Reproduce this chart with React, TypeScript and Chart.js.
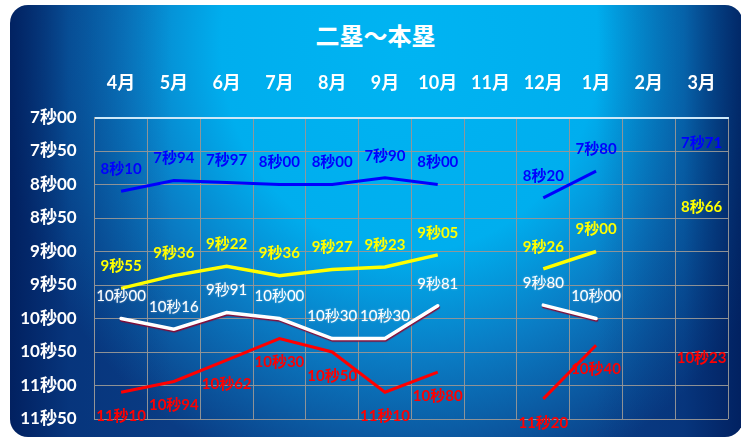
import React, { useEffect, useRef } from 'react';
import { Chart, registerables } from 'chart.js';

Chart.register(...registerables);

const titleText = '二塁～本塁';
const months = ['4月', '5月', '6月', '7月', '8月', '9月', '10月', '11月', '12月', '1月', '2月', '3月'];
const yTickLabels = ['7秒00', '7秒50', '8秒00', '8秒50', '9秒00', '9秒50', '10秒00', '10秒50', '11秒00', '11秒50'];
const blueSeries = [8.10, 7.94, 7.97, 8.00, 8.00, 7.90, 8.00, null, 8.20, 7.80, null, 7.71];
const yellowSeries = [9.55, 9.36, 9.22, 9.36, 9.27, 9.23, 9.05, null, 9.26, 9.00, null, 8.66];
const whiteSeries = [10.00, 10.16, 9.91, 10.00, 10.30, 10.30, 9.81, null, 9.80, 10.00, null, null];
const redSeries = [11.10, 10.94, 10.62, 10.30, 10.50, 11.10, 10.80, null, 11.20, 10.40, null, 10.23];

const Y_MIN = 7;
const Y_STEP = 0.5;
const FONT = "Lato, 'Noto Sans CJK JP', sans-serif";

function fmtTime(v: number): string {
  const h = Math.round(v * 100);
  const s = Math.floor(h / 100);
  const c = h % 100;
  return `${s}秒${String(c).padStart(2, '0')}`;
}

const shadowPlugin = {
  id: 'lineShadow',
  beforeDatasetDraw(chart: any, args: any) {
    const ds = chart.data.datasets[args.index];
    if (ds.lineShadow) {
      const ctx = chart.ctx;
      ctx.save();
      ctx.shadowColor = ds.lineShadow;
      ctx.shadowOffsetX = 0.5;
      ctx.shadowOffsetY = 1.5;
      ctx.shadowBlur = 1;
    }
  },
  afterDatasetDraw(chart: any, args: any) {
    const ds = chart.data.datasets[args.index];
    if (ds.lineShadow) chart.ctx.restore();
  },
};

const valueLabelPlugin = {
  id: 'valueLabels',
  afterDatasetsDraw(chart: any) {
    const ctx = chart.ctx;
    chart.data.datasets.forEach((ds: any, i: number) => {
      const meta = chart.getDatasetMeta(i);
      const cfg = ds.labelCfg;
      if (!cfg) return;
      meta.data.forEach((pt: any, j: number) => {
        const v = ds.data[j];
        if (v == null) return;
        const dy = cfg.position === 'above' ? -cfg.offset : cfg.offset;
        ctx.save();
        ctx.font = cfg.font;
        ctx.fillStyle = cfg.color;
        ctx.textAlign = 'center';
        ctx.textBaseline = 'middle';
        if (cfg.glow) {
          ctx.shadowColor = cfg.glow;
          ctx.shadowBlur = 2;
        }
        ctx.fillText(fmtTime(v), pt.x, pt.y + dy);
        ctx.restore();
      });
    });
  },
};

export default function App() {
  const ref = useRef<HTMLCanvasElement | null>(null);

  useEffect(() => {
    if (!ref.current) return;
    const gridGray = 'rgba(150,150,150,0.95)';
    const topLine = 'rgba(205,232,250,0.95)';
    const chart = new Chart(ref.current, {
      type: 'line',
      data: {
        labels: months,
        datasets: [
          {
            label: 'blue',
            data: blueSeries,
            borderColor: '#0000ff',
            borderWidth: 3,
            pointRadius: 0,
            spanGaps: false,
            labelCfg: { position: 'above', offset: 22, color: '#0000ff', font: `bold 15px ${FONT}` },
          } as any,
          {
            label: 'yellow',
            data: yellowSeries,
            borderColor: '#ffff00',
            borderWidth: 3.5,
            pointRadius: 0,
            spanGaps: false,
            labelCfg: { position: 'above', offset: 22, color: '#ffff00', font: `bold 15px ${FONT}` },
          } as any,
          {
            label: 'white',
            data: whiteSeries,
            borderColor: '#ffffff',
            borderWidth: 3.5,
            borderCapStyle: 'round',
            pointRadius: 0,
            spanGaps: false,
            lineShadow: 'rgba(150,0,40,0.9)',
            labelCfg: { position: 'above', offset: 22, color: '#ffffff', font: `15px ${FONT}`, glow: 'rgba(255,255,255,0.5)' },
          } as any,
          {
            label: 'red',
            data: redSeries,
            borderColor: '#ff0000',
            borderWidth: 3,
            pointRadius: 0,
            spanGaps: false,
            labelCfg: { position: 'below', offset: 24, color: '#ff0000', font: `bold 15px ${FONT}` },
          } as any,
        ],
      },
      options: {
        animation: false,
        responsive: false,
        devicePixelRatio: 1,
        layout: { padding: { left: 0, right: 13, top: 0, bottom: 22 } },
        plugins: {
          legend: { display: false },
          tooltip: { enabled: false },
          title: { display: false },
        },
        scales: {
          x: {
            type: 'category',
            position: 'top',
            offset: true,
            grid: { offset: true, color: gridGray, lineWidth: 1, drawTicks: false },
            border: { color: topLine, width: 2 },
            ticks: {
              color: '#ffffff',
              font: { family: FONT, size: 18, weight: 'bold' },
              padding: 24,
              maxRotation: 0,
              autoSkip: false,
            },
            afterFit: (axis: any) => {
              axis.height = 117.5;
              axis.paddingLeft = 0;
              axis.paddingRight = 0;
            },
          },
          y: {
            reverse: true,
            min: 7,
            max: 11.5,
            grid: {
              color: (c: any) => (c.tick && c.tick.value === Y_MIN ? topLine : gridGray),
              lineWidth: (c: any) => (c.tick && c.tick.value === Y_MIN ? 2 : 1),
              drawTicks: false,
            },
            border: { color: gridGray, width: 1 },
            ticks: {
              stepSize: Y_STEP,
              color: '#ffffff',
              font: { family: FONT, size: 17, weight: 'bold' },
              padding: 18,
              callback: (v: any) => yTickLabels[Math.round((Number(v) - Y_MIN) / Y_STEP)],
            },
            afterFit: (axis: any) => {
              axis.width = 94.7;
              axis.paddingTop = 0;
              axis.paddingBottom = 0;
            },
          },
        },
      } as any,
      plugins: [shadowPlugin, valueLabelPlugin],
    });
    return () => chart.destroy();
  }, []);

  return (
    <div style={{ position: 'fixed', left: 0, top: 0, width: 741, height: 441, background: '#ffffff', overflow: 'hidden' }}>
      <div
        style={{
          position: 'absolute',
          left: 10,
          top: 5,
          width: 733,
          height: 432,
          borderRadius: 18,
          background:
            'linear-gradient(to right, rgba(0,28,90,0.85) 0%, rgba(0,40,110,0.35) 8%, rgba(0,40,110,0) 22%, rgba(0,40,110,0) 80%, rgba(0,40,110,0.35) 92%, rgba(0,28,90,0.85) 100%), radial-gradient(ellipse 420px 460px at 400px 40px, #00b4f2 0%, #00aeee 45%, #0a7cc4 68%, #0b5aa2 85%, #0a3c84 100%)',
        }}
      />
      <div
        style={{
          position: 'absolute',
          left: 0,
          top: 23,
          width: 751,
          textAlign: 'center',
          color: '#ffffff',
          fontFamily: "'Noto Sans CJK JP', sans-serif",
          fontWeight: 700,
          fontSize: 24,
          lineHeight: '24px',
        }}
      >
        {titleText}
      </div>
      <canvas ref={ref} width={741} height={441} style={{ position: 'absolute', left: 0, top: 0, width: 741, height: 441 }} />
    </div>
  );
}
